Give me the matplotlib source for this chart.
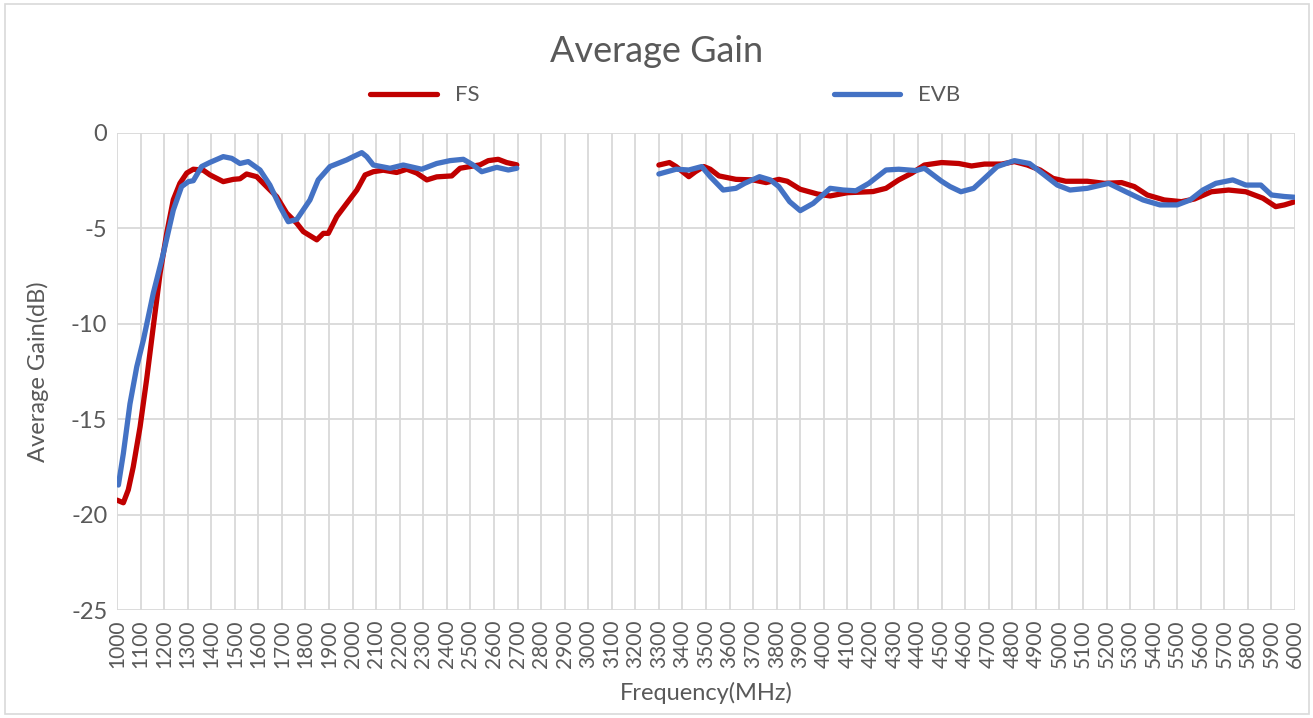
import numpy as np
import matplotlib
matplotlib.use('Agg')
import matplotlib.pyplot as plt
from matplotlib.lines import Line2D
from matplotlib.patches import Rectangle

# values (NaN marks the gap 2700-3300 MHz)
fs_freq = [1000, 1027, 1048, 1069, 1098, 1126, 1154, 1183, 1211, 1239, 1267, 1296, 1324,
           1366, 1395, 1451, 1494, 1522, 1550, 1593, 1635, 1678, 1720, 1763, 1791, 1848,
           1876, 1897, 1933, 1975, 2018, 2053, 2088, 2130, 2187, 2230, 2272, 2315, 2357,
           2421, 2456, 2498, 2541, 2576, 2618, 2654, 2697,
           3000,
           3300, 3345, 3373, 3427, 3455, 3491, 3518, 3555, 3627, 3700, 3755, 3809, 3845,
           3900, 3973, 4027, 4100, 4209, 4264, 4318, 4373, 4427, 4500, 4573, 4627, 4682,
           4755, 4809, 4864, 4918, 4973, 5027, 5118, 5191, 5264, 5318, 5373, 5445, 5518,
           5573, 5645, 5718, 5791, 5864, 5918, 5955, 6000]
fs_gain = [-19.24, -19.38, -18.7, -17.5, -15.4, -12.9, -10.15, -7.35, -5.26, -3.5, -2.64,
           -2.1, -1.9, -1.95, -2.2, -2.55, -2.43, -2.4, -2.15, -2.29, -2.81, -3.34, -4.2,
           -4.73, -5.17, -5.6, -5.26, -5.26, -4.38, -3.69, -2.99, -2.2, -2.03, -1.95, -2.07,
           -1.9, -2.1, -2.46, -2.3, -2.25, -1.85, -1.76, -1.67, -1.45, -1.38, -1.55, -1.67,
           np.nan,
           -1.68, -1.55, -1.76, -2.29, -2.03, -1.76, -1.9, -2.25, -2.43, -2.46, -2.6, -2.43,
           -2.53, -2.95, -3.2, -3.3, -3.13, -3.07, -2.9, -2.46, -2.11, -1.68, -1.55, -1.6,
           -1.73, -1.63, -1.63, -1.5, -1.68, -1.94, -2.38, -2.53, -2.53, -2.64, -2.6, -2.81,
           -3.25, -3.51, -3.6, -3.46, -3.08, -2.99, -3.08, -3.42, -3.86, -3.77, -3.6]

evb_freq = [1006, 1027, 1055, 1084, 1112, 1154, 1197, 1239, 1274, 1303, 1324, 1359, 1395,
            1451, 1487, 1522, 1557, 1607, 1649, 1692, 1727, 1763, 1819, 1854, 1904, 1975,
            2003, 2039, 2060, 2088, 2159, 2215, 2293, 2357, 2413, 2470, 2512, 2548, 2612,
            2661, 2697,
            3000,
            3300, 3373, 3427, 3482, 3518, 3573, 3627, 3664, 3727, 3773, 3809, 3855, 3900,
            3955, 4027, 4082, 4136, 4191, 4264, 4318, 4391, 4427, 4500, 4536, 4582, 4636,
            4682, 4736, 4809, 4873, 4936, 4991, 5045, 5118, 5209, 5282, 5355, 5427, 5500,
            5555, 5609, 5664, 5736, 5791, 5855, 5900, 5955, 6000]
evb_gain = [-18.45, -16.8, -14.2, -12.25, -10.85, -8.4, -6.3, -4.04, -2.81, -2.55, -2.5,
            -1.76, -1.54, -1.24, -1.33, -1.6, -1.5, -1.94, -2.73, -3.86, -4.65, -4.53, -3.51,
            -2.46, -1.76, -1.41, -1.24, -1.03, -1.24, -1.68, -1.85, -1.68, -1.9, -1.6, -1.45,
            -1.38, -1.68, -2.03, -1.8, -1.94, -1.85,
            np.nan,
            -2.15, -1.9, -1.94, -1.76, -2.29, -2.99, -2.9, -2.64, -2.29, -2.46, -2.81, -3.6,
            -4.07, -3.69, -2.9, -2.99, -3.03, -2.64, -1.94, -1.9, -1.97, -1.85, -2.53, -2.81,
            -3.08, -2.9, -2.38, -1.76, -1.45, -1.6, -2.2, -2.73, -2.99, -2.9, -2.64, -3.08,
            -3.51, -3.77, -3.77, -3.51, -2.99, -2.64, -2.46, -2.73, -2.73, -3.25, -3.33, -3.37]

x_ticks = list(range(1000, 6001, 100))
y_ticks = [0, -5, -10, -15, -20, -25]

text_color = '#595959'
grid_color = '#D9D9D9'
plt.rcParams['font.family'] = ['Lato', 'DejaVu Sans']
plt.rcParams['axes.unicode_minus'] = False

fig = plt.figure(figsize=(13.13, 7.18), dpi=100)
ax = fig.add_axes([0.0891, 0.1504, 0.8972, 0.6644])

ax.plot(fs_freq, fs_gain, color='#C00000', lw=3.8, solid_capstyle='round', label='FS')
ax.plot(evb_freq, evb_gain, color='#4472C4', lw=3.8, solid_capstyle='round', label='EVB')

ax.set_xlim(1000, 6000)
ax.set_ylim(-25, 0)
ax.set_xticks(x_ticks)
ax.set_xticklabels([str(t) for t in x_ticks], rotation=90, fontsize=15, color=text_color)
ax.set_yticks(y_ticks)
ax.set_yticklabels([str(t) for t in y_ticks], fontsize=17, color=text_color)
ax.tick_params(length=0, pad=7)
ax.grid(True, color=grid_color, lw=1.3)
ax.set_axisbelow(True)
for s in ax.spines.values():
    s.set_visible(False)

ax.set_xlabel('Frequency(MHz)', fontsize=17, color=text_color, labelpad=10)
ax.set_ylabel('Average Gain(dB)', fontsize=17, color=text_color, labelpad=16)
fig.text(0.5, 0.928, 'Average Gain', ha='center', va='center', fontsize=26, color=text_color)

# two legend entries placed apart, like the reference
h_fs = Line2D([], [], color='#C00000', lw=3.8, solid_capstyle='round')
h_evb = Line2D([], [], color='#4472C4', lw=3.8, solid_capstyle='round')
leg1 = fig.legend([h_fs], ['FS'], loc='center left', bbox_to_anchor=(0.282, 0.867),
                  frameon=False, fontsize=16, handlelength=3.0, labelcolor=text_color,
                  borderaxespad=0, borderpad=0)
leg2 = fig.legend([h_evb], ['EVB'], loc='center left', bbox_to_anchor=(0.635, 0.867),
                  frameon=False, fontsize=16, handlelength=3.0, labelcolor=text_color,
                  borderaxespad=0, borderpad=0)

fig.patches.append(Rectangle((0.004, 0.006), 0.993, 0.988, transform=fig.transFigure,
                             fill=False, edgecolor='#D9D9D9', lw=1.2))

fig.savefig('out.png', dpi=100, facecolor='white')
